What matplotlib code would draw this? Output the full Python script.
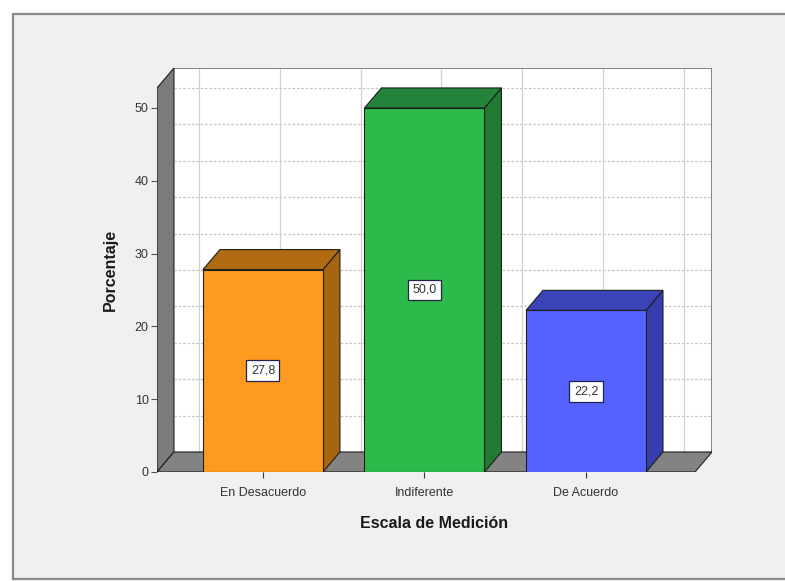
import matplotlib
matplotlib.use("Agg")
import matplotlib.pyplot as plt
from matplotlib.patches import Polygon, Rectangle

# Data
categories = ["En Desacuerdo", "Indiferente", "De Acuerdo"]
values = [27.8, 50.0, 22.2]
value_labels = ["27,8", "50,0", "22,2"]
y_ticks = [0, 10, 20, 30, 40, 50]

# Styling
front_colors = ["#FF9A20", "#2DBA4A", "#5462FF"]
shade_colors = ["#A8650F", "#1F7B32", "#363EAE"]
top_colors = ["#B06A12", "#23833A", "#3A43B8"]
edge = "#1e1e1e"

plt.rcParams["font.family"] = ["Liberation Sans", "DejaVu Sans"]

fig = plt.figure(figsize=(7.85, 5.81), dpi=100)
fig.patch.set_facecolor("white")
# outer frame
fig.patches.append(Rectangle((13 / 785, 2 / 581), 1.0, 565 / 581,
                             transform=fig.transFigure, facecolor="#F0F0F0",
                             edgecolor="#8a8a8a", linewidth=1.6, zorder=-10))

ax = fig.add_axes([157 / 785, 109 / 581, (712 - 157) / 785, (472 - 68) / 581])
ax.set_facecolor("none")
ax.set_zorder(5)

x0, xR = -0.656, 2.78
ytop = 55.49
dx, dy = 0.105, 2.75
bw = 0.743

ax.set_xlim(x0, xR)
ax.set_ylim(0, ytop)

# back wall
ax.add_patch(Polygon([(x0 + dx, dy), (xR, dy), (xR, ytop), (x0 + dx, ytop)],
                     closed=True, facecolor="white", edgecolor="none", zorder=1))
# grid on back wall
for v in range(5, 55, 5):
    ax.plot([x0 + dx, xR], [v + dy, v + dy], color="#c4c4c4", lw=0.9,
            ls=(0, (2, 1.5)), zorder=2)
for c in [-0.5, 0, 0.5, 1, 1.5, 2, 2.5]:
    ax.plot([c + dx, c + dx], [dy, ytop], color="#d2d2d2", lw=0.9, zorder=2)
# back wall border
ax.plot([x0 + dx, xR, xR], [ytop, ytop, dy], color="#6e6e6e", lw=1.2, zorder=3)

# left wall
ax.add_patch(Polygon([(x0, 0), (x0, ytop - dy), (x0 + dx, ytop), (x0 + dx, dy)],
                     closed=True, facecolor="#7b7b7b", edgecolor=edge, lw=0.8,
                     zorder=3))
# floor
ax.add_patch(Polygon([(x0, 0), (xR - dx, 0), (xR, dy), (x0 + dx, dy)],
                     closed=True, facecolor="#838383", edgecolor=edge, lw=0.8,
                     zorder=3))

xs = list(range(len(categories)))
ax.bar(xs, values, width=bw, color=front_colors, edgecolor=edge, lw=0.8,
       zorder=5)
for x, v, sc, tc, lab in zip(xs, values, shade_colors, top_colors, value_labels):
    l, r = x - bw / 2, x + bw / 2
    ax.add_patch(Polygon([(r, 0), (r, v), (r + dx, v + dy), (r + dx, dy)],
                         closed=True, facecolor=sc, edgecolor=edge, lw=0.8,
                         zorder=4))
    ax.add_patch(Polygon([(l, v), (r, v), (r + dx, v + dy), (l + dx, v + dy)],
                         closed=True, facecolor=tc, edgecolor=edge, lw=0.8,
                         zorder=4))
    ax.text(x, v / 2, lab, ha="center", va="center", fontsize=9,
            color="#333333", zorder=6,
            bbox=dict(boxstyle="square,pad=0.35", facecolor="white",
                      edgecolor="#22224a", lw=0.9))

for s in ax.spines.values():
    s.set_visible(False)
ax.set_yticks(y_ticks)
ax.set_yticklabels([str(t) for t in y_ticks])
ax.set_xticks(xs)
ax.set_xticklabels(categories)
ax.tick_params(axis="both", labelsize=9, colors="#333333", length=4,
               width=0.8, pad=2)
ax.tick_params(axis="x", pad=7)
ax.tick_params(axis="y", colors="#555555", labelcolor="#333333")
ax.set_xlabel("Escala de Medición", fontsize=11.5, fontweight="bold",
              color="#1a1a1a", labelpad=12)
ax.set_ylabel("Porcentaje", fontsize=11.5, fontweight="bold", color="#1a1a1a",
              labelpad=12)

fig.savefig("out.png", dpi=100)
